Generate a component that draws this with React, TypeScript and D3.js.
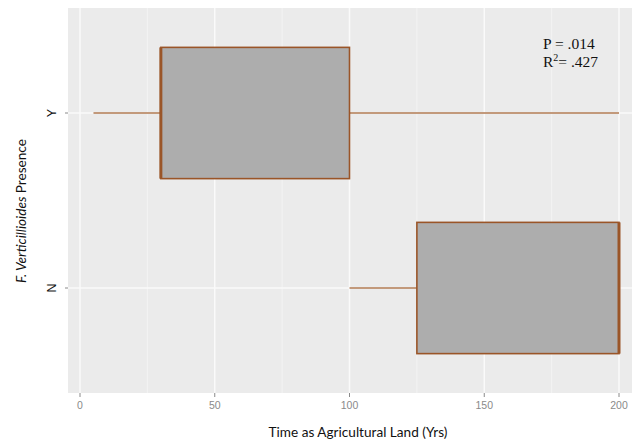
import React from "react";
import * as d3 from "d3";

const categories = ["Y", "N"];
const whiskerLow = [5, 100];
const q1 = [30, 125];
const medians = [30, 200];
const q3 = [100, 200];
const whiskerHigh = [200, 200];
const xTicks = [0, 50, 100, 150, 200];
const xMinorTicks = [25, 75, 125, 175];

const W = 632;
const H = 441;
const panel = { left: 68, top: 8, bottom: 393 };

export default function App() {
  const x = d3.scaleLinear().domain([0, 200]).range([80, 619]);
  const y = d3.scalePoint().domain(categories).range([panel.top, panel.bottom]).padding(0.6);
  const yc = (c: string) => y(c) as number;
  const step = y.step();
  const bh = step * 0.75;
  const stroke = "#9a5528";
  const whiskerColor = "#b07a52";

  return (
    <svg width={W} height={H} style={{ position: "absolute", left: 0, top: 0, background: "#fff" }}>
      <rect x={panel.left} y={panel.top} width={W - panel.left} height={panel.bottom - panel.top} fill="#ebebeb" />
      {xMinorTicks.map((t) => (
        <line key={"mn" + t} x1={x(t)} x2={x(t)} y1={panel.top} y2={panel.bottom} stroke="#f5f5f5" strokeWidth={0.8} />
      ))}
      {xTicks.map((t) => (
        <line key={"mj" + t} x1={x(t)} x2={x(t)} y1={panel.top} y2={panel.bottom} stroke="#fafafa" strokeWidth={1.5} />
      ))}
      {categories.map((c) => (
        <line key={"h" + c} x1={panel.left} x2={W} y1={yc(c)} y2={yc(c)} stroke="#fafafa" strokeWidth={1.5} />
      ))}
      {categories.map((c, i) => {
        const cy = yc(c);
        return (
          <g key={"b" + c}>
            <line x1={x(whiskerLow[i])} x2={x(q1[i])} y1={cy} y2={cy} stroke={whiskerColor} strokeWidth={1.6} />
            <line x1={x(q3[i])} x2={x(whiskerHigh[i])} y1={cy} y2={cy} stroke={whiskerColor} strokeWidth={1.6} />
            <rect
              x={x(q1[i])}
              y={cy - bh / 2}
              width={x(q3[i]) - x(q1[i])}
              height={bh}
              fill="#adadad"
              stroke={stroke}
              strokeWidth={1.6}
            />
            <line x1={x(medians[i])} x2={x(medians[i])} y1={cy - bh / 2} y2={cy + bh / 2} stroke={stroke} strokeWidth={3} />
          </g>
        );
      })}
      {xTicks.map((t) => (
        <g key={"t" + t}>
          <line x1={x(t)} x2={x(t)} y1={panel.bottom} y2={panel.bottom + 4} stroke="#8a8a8a" strokeWidth={1} />
          <text x={x(t)} y={409} textAnchor="middle" fontFamily="Liberation Sans, Arial, sans-serif" fontSize={10.5} fill="#8a8a8a">
            {t}
          </text>
        </g>
      ))}
      {categories.map((c) => (
        <g key={"yt" + c}>
          <line x1={panel.left - 3} x2={panel.left} y1={yc(c)} y2={yc(c)} stroke="#8a8a8a" strokeWidth={1} />
          <text
            transform={`translate(56,${yc(c)}) rotate(-90)`}
            textAnchor="middle"
            fontFamily="Liberation Sans, Arial, sans-serif"
            fontSize={12.5}
            fill="#111"
          >
            {c}
          </text>
        </g>
      ))}
      <text x={358} y={437} textAnchor="middle" fontFamily="Lato, 'Open Sans', sans-serif" fontSize={13.6} fill="#111">
        Time as Agricultural Land (Yrs)
      </text>
      <text
        transform={`translate(26,211) rotate(-90)`}
        textAnchor="middle"
        fontFamily="Lato, 'Open Sans', sans-serif"
        fontSize={13.6}
        fill="#111"
      >
        <tspan fontStyle="italic">F. Verticillioides</tspan> Presence
      </text>
      <text x={543} y={49} fontFamily="Liberation Serif, 'Times New Roman', serif" fontSize={15.5} fill="#111">
        P = .014
      </text>
      <text x={543} y={67} fontFamily="Liberation Serif, 'Times New Roman', serif" fontSize={15.5} fill="#111">
        R<tspan fontSize={10} dy={-6}>2</tspan>
        <tspan dy={6}>= .427</tspan>
      </text>
    </svg>
  );
}
